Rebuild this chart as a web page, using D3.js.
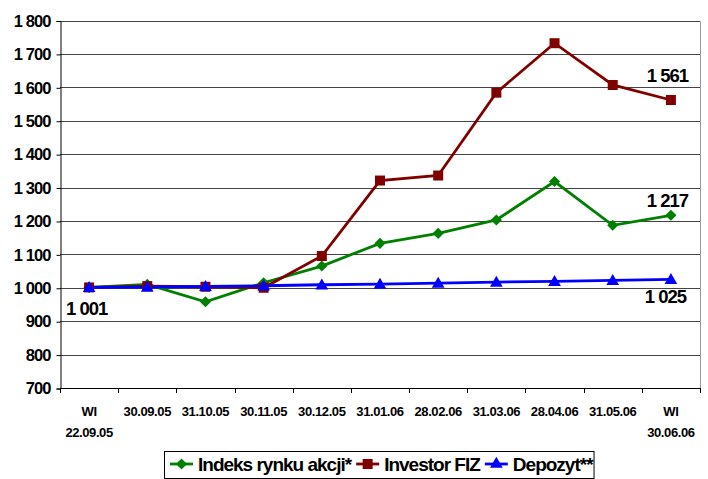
<!DOCTYPE html>
<html><head><meta charset="utf-8">
<script src="https://cdn.jsdelivr.net/npm/d3@7"></script>
<style>
body{margin:0;background:#fff;}
svg{display:block;font-family:Arial,"Liberation Sans",sans-serif;font-weight:bold;}
</style></head>
<body>
<svg id="c" width="708" height="479"></svg>
<script>
const categories = [["WI","22.09.05"],["30.09.05"],["31.10.05"],["30.11.05"],["30.12.05"],["31.01.06"],["28.02.06"],["31.03.06"],["28.04.06"],["31.05.06"],["WI","30.06.06"]];
const indeksValues = [1001,1010,958,1015,1065,1133,1163,1203,1318,1187,1217];
const investorValues = [1001,1005,1003,1000,1095,1321,1336,1584,1732,1607,1562];
const depozytValues = [1001,1002,1004,1006,1009,1011,1014,1017,1019,1022,1025];
const seriesNames = ["Indeks rynku akcji*","Investor FIZ","Depozyt**"];
const yTicks = [700,800,900,1000,1100,1200,1300,1400,1500,1600,1700,1800];
const endLabels = ["1 001","1 561","1 217","1 025"];

const svg = d3.select("#c");
const L=60, R=700, T=20.5, B=388;
const x = d3.scaleBand().domain(d3.range(categories.length)).range([L,R]).padding(0);
const y = d3.scaleLinear().domain([700,1800]).range([B,T]);
const cx = i => x(i)+x.bandwidth()/2;
const fmt = v => String(v).replace(/\B(?=(\d{3})+(?!\d))/g," ");

// gridlines
svg.append("g").selectAll("line").data(yTicks).join("line")
  .attr("x1",L).attr("x2",R).attr("y1",d=>Math.round(y(d))+0.5).attr("y2",d=>Math.round(y(d))+0.5)
  .attr("stroke","#444").attr("stroke-width",1);
// right border
svg.append("line").attr("x1",R+0.5).attr("x2",R+0.5).attr("y1",Math.round(T)+0.5).attr("y2",B+0.5).attr("stroke","#999");

// y axis
const ya = d3.axisLeft(y).tickValues(yTicks).tickSize(4).tickPadding(6).tickFormat(fmt);
const yg = svg.append("g").attr("transform",`translate(${L+0.5},0.5)`).call(ya);
yg.select(".domain").attr("stroke","#000");
yg.selectAll(".tick line").attr("stroke","#000");
yg.selectAll("text").attr("font-size",16.5).attr("font-weight","bold").attr("fill","#000")
  .attr("letter-spacing","-0.9").attr("font-family","Arial,'Liberation Sans',sans-serif");

// x axis
svg.append("line").attr("x1",L).attr("x2",R).attr("y1",B+0.5).attr("y2",B+0.5).attr("stroke","#000");
const bounds = d3.range(categories.length+1).map(i=> i<categories.length ? x(i) : x(i-1)+x.bandwidth());
svg.append("g").selectAll("line").data(bounds).join("line")
  .attr("x1",d=>Math.round(d)+0.5).attr("x2",d=>Math.round(d)+0.5).attr("y1",B).attr("y2",B+5).attr("stroke","#000");
const xl = svg.append("g").selectAll("text").data(categories).join("text")
  .attr("x",(d,i)=>cx(i)).attr("text-anchor","middle").attr("font-size",13).attr("letter-spacing","-0.4").attr("fill","#000");
xl.each(function(d){
  const t=d3.select(this);
  d.forEach((s,k)=>t.append("tspan").attr("x",t.attr("x")).attr("y",416+k*21).text(s));
});

// series
const series = [
  {name:seriesNames[0],values:indeksValues,color:"#008000",shape:"diamond"},
  {name:seriesNames[1],values:investorValues,color:"#800000",shape:"square"},
  {name:seriesNames[2],values:depozytValues,color:"#0000FF",shape:"triangle"}
];
const sym = {diamond:d3.symbol(d3.symbolSquare,62), square:d3.symbol(d3.symbolSquare,100), triangle:d3.symbol(d3.symbolTriangle,70)};
const rot = {diamond:" rotate(45)", square:"", triangle:""};
const line = d3.line().x((d,i)=>cx(i)).y(d=>y(d));
const drawOrder=[0,1,2];
drawOrder.forEach(si=>{
  const s=series[si];
  svg.append("path").datum(s.values).attr("d",line).attr("fill","none").attr("stroke",s.color).attr("stroke-width",2.8);
});
drawOrder.forEach(si=>{
  const s=series[si];
  svg.append("g").selectAll("path").data(s.values).join("path")
    .attr("transform",(d,i)=>`translate(${cx(i)},${y(d)+(s.shape==="triangle"?1:0)})${rot[s.shape]}`)
    .attr("d",sym[s.shape]).attr("fill",s.color);
});

// end labels
const lab = svg.append("g").attr("font-size",18.5).attr("letter-spacing","-1").attr("fill","#000");
lab.append("text").attr("x",66).attr("y",y(indeksValues[0])+28).text(endLabels[0]);
lab.append("text").attr("x",688).attr("y",y(investorValues[10])-18).attr("text-anchor","end").text(endLabels[1]);
lab.append("text").attr("x",688).attr("y",y(indeksValues[10])-8).attr("text-anchor","end").text(endLabels[2]);
lab.append("text").attr("x",686).attr("y",y(depozytValues[10])+24).attr("text-anchor","end").text(endLabels[3]);

// legend
const lg = svg.append("g");
const box = lg.append("rect").attr("x",164.5).attr("y",451.5).attr("height",27).attr("fill","#fff").attr("stroke","#000");
let px = 170;
series.forEach(s=>{
  lg.append("line").attr("x1",px).attr("x2",px+23).attr("y1",464).attr("y2",464).attr("stroke",s.color).attr("stroke-width",2.8);
  lg.append("path").attr("transform",`translate(${px+11.5},464)${rot[s.shape]}`).attr("d",sym[s.shape]).attr("fill",s.color);
  const t = lg.append("text").attr("x",px+28).attr("y",471).attr("font-size",19).attr("letter-spacing","-1").attr("fill","#000").text(s.name);
  px = px+28+t.node().getComputedTextLength()+5;
});
box.attr("width",px-164-4);
</script>
</body></html>
